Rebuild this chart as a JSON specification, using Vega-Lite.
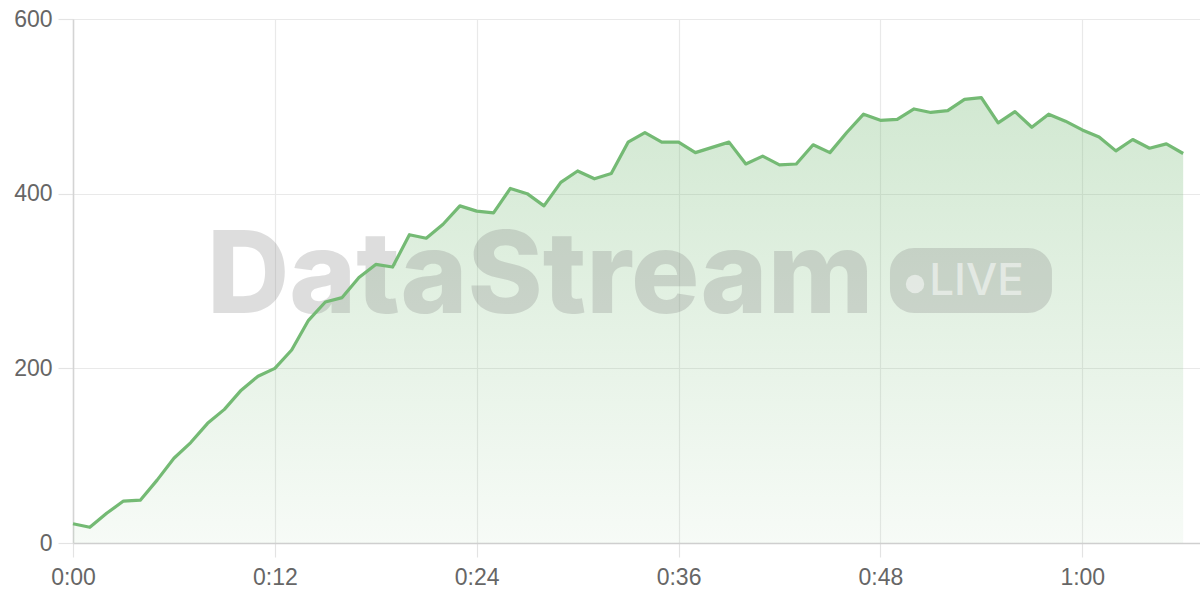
{
  "$schema": "https://vega.github.io/schema/vega-lite/v6.json",
  "width": 1127,
  "height": 524,
  "autosize": {"type": "none"},
  "padding": {"left": 73, "top": 19, "right": 0, "bottom": 57},
  "background": "#ffffff",
  "config": {
    "view": {"stroke": null},
    "axis": {
      "labelFont": "Liberation Sans",
      "labelFontSize": 23,
      "labelColor": "#666666",
      "gridColor": "#e9e9e9",
      "gridWidth": 1.2,
      "tickColor": "#e3e3e3",
      "tickWidth": 1.2,
      "domainColor": "#d0d0d0",
      "domainWidth": 1.5,
      "title": null
    }
  },
  "datasets": {
    "series": [
      {"t": 0, "v": 22}, {"t": 1, "v": 18}, {"t": 2, "v": 34}, {"t": 3, "v": 48}, {"t": 4, "v": 49},
      {"t": 5, "v": 72}, {"t": 6, "v": 97}, {"t": 7, "v": 115}, {"t": 8, "v": 137}, {"t": 9, "v": 153},
      {"t": 10, "v": 175}, {"t": 11, "v": 191}, {"t": 12, "v": 200}, {"t": 13, "v": 221}, {"t": 14, "v": 255},
      {"t": 15, "v": 276}, {"t": 16, "v": 281}, {"t": 17, "v": 304}, {"t": 18, "v": 319}, {"t": 19, "v": 316},
      {"t": 20, "v": 353}, {"t": 21, "v": 349}, {"t": 22, "v": 365}, {"t": 23, "v": 386}, {"t": 24, "v": 380},
      {"t": 25, "v": 378}, {"t": 26, "v": 406}, {"t": 27, "v": 400}, {"t": 28, "v": 386}, {"t": 29, "v": 413},
      {"t": 30, "v": 426}, {"t": 31, "v": 417}, {"t": 32, "v": 423}, {"t": 33, "v": 459}, {"t": 34, "v": 470},
      {"t": 35, "v": 459}, {"t": 36, "v": 459}, {"t": 37, "v": 447}, {"t": 38, "v": 453}, {"t": 39, "v": 459},
      {"t": 40, "v": 434}, {"t": 41, "v": 443}, {"t": 42, "v": 433}, {"t": 43, "v": 434}, {"t": 44, "v": 456},
      {"t": 45, "v": 447}, {"t": 46, "v": 470}, {"t": 47, "v": 491}, {"t": 48, "v": 484}, {"t": 49, "v": 485},
      {"t": 50, "v": 497}, {"t": 51, "v": 493}, {"t": 52, "v": 495}, {"t": 53, "v": 508}, {"t": 54, "v": 510},
      {"t": 55, "v": 481}, {"t": 56, "v": 494}, {"t": 57, "v": 476}, {"t": 58, "v": 491}, {"t": 59, "v": 483},
      {"t": 60, "v": 473}, {"t": 61, "v": 465}, {"t": 62, "v": 449}, {"t": 63, "v": 462}, {"t": 64, "v": 452},
      {"t": 65, "v": 457}, {"t": 66, "v": 446}
    ],
    "brand": [{"name": "DataStream"}],
    "badge": [{"name": "LIVE"}]
  },
  "layer": [
    {
      "data": {"name": "series"},
      "mark": {
        "type": "area",
        "fill": {
          "gradient": "linear",
          "x1": 0, "y1": 0, "x2": 0, "y2": 1,
          "stops": [
            {"offset": 0, "color": "rgba(114,184,114,0.32)"},
            {"offset": 1, "color": "rgba(114,184,114,0.06)"}
          ]
        }
      },
      "encoding": {
        "x": {
          "field": "t", "type": "quantitative",
          "scale": {"domain": [0, 67], "nice": false, "zero": false},
          "axis": {
            "values": [0, 12, 24, 36, 48, 60],
            "labelExpr": "floor(datum.value/60) + ':' + (datum.value % 60 < 10 ? '0' : '') + (datum.value % 60)",
            "tickSize": 14,
            "labelPadding": 9,
            "domainColor": "#cfcfcf",
            "labelFlush": false
          }
        },
        "y": {
          "field": "v", "type": "quantitative",
          "scale": {"domain": [0, 600], "nice": false},
          "axis": {
            "values": [0, 200, 400, 600],
            "tickSize": 15,
            "labelPadding": 6,
            "domainColor": "#d4d4d4"
          }
        }
      }
    },
    {
      "data": {"name": "badge"},
      "mark": {"type": "rect", "fill": "#808080", "opacity": 0.26, "cornerRadius": 24},
      "encoding": {
        "x": {"datum": 48.57, "type": "quantitative"},
        "x2": {"datum": 58.2},
        "y": {"datum": 337.8, "type": "quantitative"},
        "y2": {"datum": 263.4}
      }
    },
    {
      "data": {"name": "brand"},
      "mark": {"type": "text", "font": "Inter", "fontWeight": 800, "fontSize": 114, "fill": "#808080", "opacity": 0.26, "align": "center", "baseline": "alphabetic"},
      "encoding": {
        "x": {"datum": 27.77, "type": "quantitative"},
        "y": {"datum": 263.4, "type": "quantitative"},
        "text": {"field": "name"}
      }
    },
    {
      "data": {"name": "badge"},
      "mark": {"type": "point", "shape": "circle", "filled": true, "fill": "#ffffff", "opacity": 0.5, "size": 340},
      "encoding": {
        "x": {"datum": 50.06, "type": "quantitative"},
        "y": {"datum": 296.6, "type": "quantitative"}
      }
    },
    {
      "data": {"name": "badge"},
      "mark": {"type": "text", "font": "Inter", "fontWeight": 500, "fontSize": 44, "fill": "#ffffff", "opacity": 0.5, "align": "left", "baseline": "alphabetic"},
      "encoding": {
        "x": {"datum": 50.9, "type": "quantitative"},
        "y": {"datum": 284.5, "type": "quantitative"},
        "text": {"field": "name"}
      }
    },
    {
      "data": {"name": "series"},
      "mark": {"type": "line", "stroke": "#74ba74", "strokeWidth": 3.2, "strokeJoin": "round"},
      "encoding": {
        "x": {"field": "t", "type": "quantitative"},
        "y": {"field": "v", "type": "quantitative"}
      }
    }
  ]
}
